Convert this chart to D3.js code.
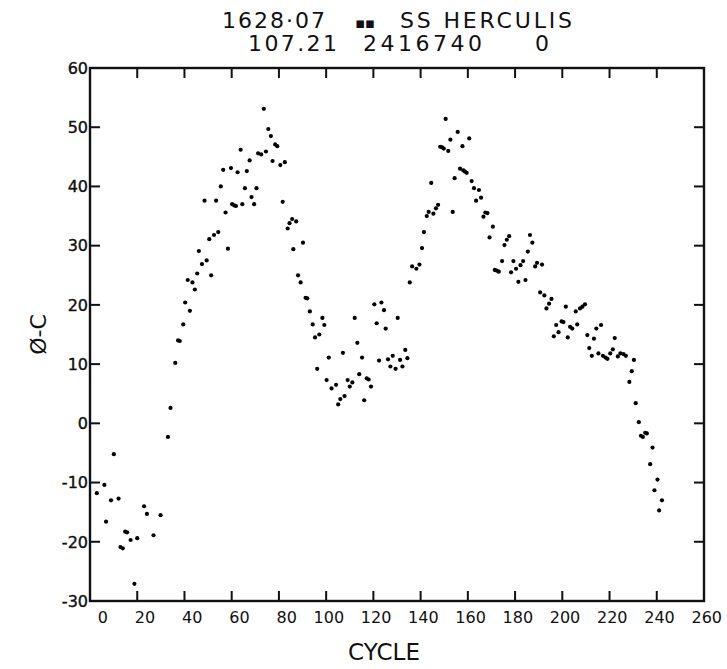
<!DOCTYPE html>
<html>
<head>
<meta charset="utf-8">
<script src="https://cdn.jsdelivr.net/npm/d3@7"></script>
<style>
  html, body { margin: 0; padding: 0; background: #fff; }
  svg { display: block; }
</style>
</head>
<body>
<div id="chart"></div>
<script>
/* O-C diagram for SS Herculis, redrawn from a plotter figure */

// ── Data ──
var CYCLES = [
  2.9, 6.1, 6.8, 8.9, 10.1, 12.1, 12.9, 13.9, 14.9, 15.7, 17.2, 18.8, 20.0, 22.9, 24.1, 26.9, 29.9,
  33.0, 34.1, 36.1, 37.3, 38.0, 39.5, 40.3, 41.4, 42.3, 43.4, 44.4, 45.4, 46.1, 47.4, 48.5, 49.4,
  50.5, 51.3, 52.5, 53.4, 54.3, 55.4, 56.4, 57.4, 58.4, 59.7, 60.2, 61.1, 61.8, 62.5, 63.8, 64.5,
  65.6, 66.4, 67.6, 68.4, 69.5, 70.5, 71.2, 72.5, 73.6, 74.5, 75.5, 76.6, 77.3, 78.4, 79.3, 80.6,
  81.6, 82.5, 83.7, 84.5, 85.6, 86.1, 87.3, 88.1, 89.2, 90.2, 91.3, 92.0, 93.1, 94.3, 95.3, 96.2,
  97.1, 98.4, 99.2, 100.2, 101.1, 102.3, 104.2, 105.1, 106.0, 107.1, 107.8, 109.1, 110.0, 111.1,
  112.1, 113.2, 114.0, 115.2, 116.1, 117.2, 118.0, 119.0, 120.4, 121.4, 122.4, 123.4, 124.5, 125.2,
  126.2, 127.2, 128.2, 129.4, 130.3, 131.3, 132.3, 133.5, 134.4, 135.4, 136.4, 138.2, 139.5, 140.6,
  141.4, 142.6, 143.4, 144.5, 145.4, 146.5, 147.4, 148.3, 149.1, 149.8, 150.6, 151.7, 152.6, 153.6,
  154.4, 155.7, 156.7, 157.7, 158.1, 158.8, 159.5, 160.6, 161.6, 162.6, 163.5, 164.7, 165.6, 166.6,
  167.4, 168.3, 169.2, 170.6, 171.4, 172.2, 173.1, 174.5, 175.5, 176.5, 177.5, 178.3, 179.3, 180.4,
  181.4, 182.3, 183.4, 184.4, 185.4, 186.3, 187.3, 188.5, 189.3, 190.6, 191.4, 192.4, 193.3, 194.4,
  195.4, 196.4, 197.4, 198.4, 199.7, 200.5, 201.5, 202.3, 203.3, 204.2, 205.7, 206.3, 207.5, 208.5,
  209.6, 210.6, 211.4, 212.5, 213.4, 214.4, 215.3, 216.4, 217.2, 218.3, 219.1, 220.3, 221.4, 222.2,
  223.5, 224.6, 225.9, 226.9, 228.4, 229.4, 230.3, 231.1, 232.4, 233.3, 234.1, 235.1, 235.8, 237.2,
  238.2, 239.0, 240.3, 241.0, 242.2
];
var O_MINUS_C = [
  -11.8, -10.4, -16.6, -13.0, -5.2, -12.7, -20.9, -21.1, -18.3, -18.4, -19.7, -27.1, -19.4, -14.0, -15.3, -18.9, -15.5,
  -2.3, 2.6, 10.2, 14.0, 13.9, 16.7, 20.4, 24.2, 19.0, 23.8, 22.6, 25.3, 29.1, 26.9, 37.6, 27.5,
  31.1, 25.0, 31.8, 37.6, 32.3, 40.0, 42.8, 35.6, 29.5, 43.1, 37.0, 36.8, 36.7, 42.4, 46.2, 37.0,
  39.7, 42.6, 44.4, 38.2, 37.0, 39.7, 45.6, 45.4, 53.1, 45.9, 49.7, 48.5, 44.3, 47.1, 46.8, 43.6,
  37.4, 44.1, 32.9, 33.8, 34.5, 29.4, 34.1, 25.0, 23.8, 30.5, 21.2, 21.1, 18.9, 16.7, 14.5, 9.2,
  15.0, 17.8, 16.6, 7.3, 11.1, 5.9, 6.5, 3.2, 4.1, 11.9, 4.6, 7.3, 6.2, 6.9,
  17.8, 13.6, 8.3, 11.1, 3.9, 7.6, 7.4, 6.2, 20.1, 16.9, 10.6, 20.4, 19.1, 16.0,
  10.8, 9.6, 11.4, 9.2, 17.8, 10.7, 9.6, 12.4, 11.0, 23.8, 26.5, 26.1, 26.8, 29.6,
  32.3, 35.0, 35.7, 40.6, 35.4, 36.3, 36.9, 46.7, 46.6, 46.4, 51.4, 46.0, 47.9, 35.7,
  41.4, 49.2, 43.0, 46.8, 42.7, 42.5, 42.3, 48.1, 40.9, 39.7, 37.6, 39.4, 38.1, 34.9,
  35.6, 35.5, 31.4, 33.2, 25.9, 25.8, 25.6, 27.4, 30.1, 31.0, 31.6, 25.5, 27.4, 26.1,
  23.9, 26.7, 27.4, 24.2, 29.0, 31.8, 30.5, 26.5, 27.1, 22.1, 26.8, 21.6, 19.4, 20.2,
  21.0, 14.7, 16.6, 15.4, 17.2, 17.1, 19.7, 14.5, 16.3, 16.0, 18.9, 16.7, 19.4, 19.7,
  20.1, 14.9, 12.7, 11.4, 14.3, 16.0, 11.8, 16.6, 11.4, 11.1, 10.9, 11.8, 12.5, 14.4,
  11.3, 11.8, 11.7, 11.4, 7.0, 8.8, 10.7, 3.4, 0.2, -2.1, -2.3, -1.6, -1.7, -6.9,
  -4.1, -11.3, -9.5, -14.7, -13.0
];
var X_TICKS = [0, 20, 40, 60, 80, 100, 120, 140, 160, 180, 200, 220, 240, 260];
var Y_TICKS = [-30, -20, -10, 0, 10, 20, 30, 40, 50, 60];
var TITLE_LINE_1 = ['1628·07', '▪▪', 'SS HERCULIS'];
var TITLE_LINE_2 = ['107.21', '2416740', '0'];
var X_LABEL = 'CYCLE';
var Y_LABEL = 'Ø-C';

(function () {
  'use strict';

  // ── Constants ──
  var WIDTH = 727;
  var HEIGHT = 669;
  var MARGIN = { top: 68, right: 23, bottom: 68, left: 90 };
  var INK = '#111';
  var FONT = 'DejaVu Sans, sans-serif';
  var TICK_LEN = 10;
  var DOT_R = 2.1;

  var innerW = WIDTH - MARGIN.left - MARGIN.right;
  var innerH = HEIGHT - MARGIN.top - MARGIN.bottom;

  var svg = d3.select('#chart').append('svg')
    .attr('width', WIDTH)
    .attr('height', HEIGHT);

  var g = svg.append('g')
    .attr('transform', 'translate(' + MARGIN.left + ',' + MARGIN.top + ')');

  var x = d3.scaleLinear().domain([0, 260]).range([0, innerW]);
  var y = d3.scaleLinear().domain([-30, 60]).range([innerH, 0]);

  // ── Title (two lines, plotter style, pieces placed like the original) ──
  function titleLine(pieces, xs, lens, sizes, baseline) {
    var t = svg.append('text')
      .attr('y', baseline)
      .attr('font-family', FONT).attr('fill', INK);
    pieces.forEach(function (s, i) {
      t.append('tspan').attr('x', xs[i])
        .attr('font-size', sizes[i])
        .attr('textLength', lens[i]).attr('lengthAdjust', 'spacing')
        .text(s);
    });
  }
  titleLine(TITLE_LINE_1, [222, 355, 400], [103, 20, 172], [22, 15, 22], 28);
  titleLine(TITLE_LINE_2, [248, 363, 535], [89, 119, 11], [22, 22, 22], 51);

  // ── Frame ──
  g.append('rect')
    .attr('x', 0).attr('y', 0)
    .attr('width', innerW).attr('height', innerH)
    .attr('fill', 'none').attr('stroke', INK).attr('stroke-width', 2.4);

  // ── Ticks (all pointing inward) ──
  var ticks = g.append('g').attr('stroke', INK).attr('stroke-width', 2);

  X_TICKS.slice(1, -1).forEach(function (v) {
    ticks.append('line').attr('x1', x(v)).attr('x2', x(v)).attr('y1', innerH).attr('y2', innerH - TICK_LEN);
    ticks.append('line').attr('x1', x(v)).attr('x2', x(v)).attr('y1', 0).attr('y2', TICK_LEN);
  });
  Y_TICKS.slice(1, -1).forEach(function (v) {
    ticks.append('line').attr('x1', 0).attr('x2', TICK_LEN).attr('y1', y(v)).attr('y2', y(v));
    ticks.append('line').attr('x1', innerW).attr('x2', innerW - TICK_LEN).attr('y1', y(v)).attr('y2', y(v));
  });

  // ── Tick labels ──
  // x labels sit right-aligned a little to the right of their tick, as in the plot
  g.selectAll('.x-label')
    .data(X_TICKS)
    .join('text')
    .attr('class', 'x-label')
    .attr('x', function (d) { return x(d) + 18; })
    .attr('y', innerH + 22)
    .attr('text-anchor', 'end')
    .attr('font-family', FONT).attr('font-size', 16).attr('fill', INK)
    .text(function (d) { return d; });

  g.selectAll('.y-label')
    .data(Y_TICKS)
    .join('text')
    .attr('class', 'y-label')
    .attr('x', -2)
    .attr('y', function (d) { return y(d); })
    .attr('dy', '0.36em')
    .attr('text-anchor', 'end')
    .attr('font-family', FONT).attr('font-size', 16).attr('fill', INK)
    .attr('stroke', INK).attr('stroke-width', 0.4)
    .text(function (d) { return d; });

  // ── Axis titles ──
  svg.append('text')
    .attr('x', MARGIN.left + innerW / 2 - 13)
    .attr('y', 660)
    .attr('text-anchor', 'middle')
    .attr('font-family', FONT).attr('font-size', 23).attr('fill', INK)
    .text(X_LABEL);

  svg.append('text')
    .attr('transform', 'translate(46,' + (MARGIN.top + y(15)) + ') rotate(-90)')
    .attr('text-anchor', 'middle')
    .attr('font-family', FONT).attr('font-size', 22).attr('fill', INK)
    .text(Y_LABEL);

  // ── Points ──
  var points = CYCLES.map(function (c, i) { return { c: c, v: O_MINUS_C[i] }; });

  g.append('g')
    .selectAll('circle')
    .data(points)
    .join('circle')
    .attr('cx', function (d) { return x(d.c); })
    .attr('cy', function (d) { return y(d.v); })
    .attr('r', DOT_R)
    .attr('fill', '#000');
})();
</script>
</body>
</html>
